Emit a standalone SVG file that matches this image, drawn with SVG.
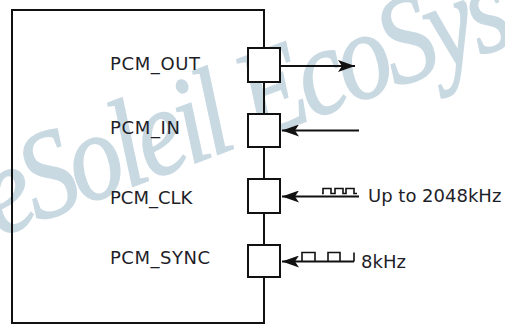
<svg xmlns="http://www.w3.org/2000/svg" width="505" height="325" viewBox="0 0 505 325">
<style>
.lbl{font-family:"DejaVu Sans","Verdana",sans-serif;font-size:18px;fill:#1e1e28}
.box{fill:#fff;stroke:#111;stroke-width:2}
.wire{stroke:#111;stroke-width:2;fill:none}
.wave{stroke:#111;stroke-width:1.6;fill:none}
.wm{font-family:"Liberation Serif","Times New Roman",serif;font-style:italic;font-size:125px;letter-spacing:-6px;fill:#c9d9e2;stroke:#c9d9e2;stroke-width:1.5}
</style>
<defs>
<marker id="ah" viewBox="0 0 17 12" refX="17" refY="6" markerWidth="17" markerHeight="12" markerUnits="userSpaceOnUse" orient="auto">
<path d="M0,0 L17,6 L0,12 L4,6 Z" fill="#111"/>
</marker>
</defs>
<rect width="505" height="325" fill="#fff"/>
<text class="wm" transform="translate(-2,237) rotate(-20.6) scale(0.85,1)">eSoleil EcoSys</text>
<g id="chip">
<rect x="12" y="10" width="252" height="313" fill="none" stroke="#111" stroke-width="2"/>
</g>
<g id="connectors">
<line class="wire" x1="280" y1="66" x2="355" y2="66" marker-end="url(#ah)"/>
<line class="wire" x1="359" y1="130.5" x2="282" y2="130.5" marker-end="url(#ah)"/>
<line class="wire" x1="359" y1="196.5" x2="282" y2="196.5" marker-end="url(#ah)"/>
<line class="wire" x1="354" y1="261.5" x2="282" y2="261.5" stroke-width="2.6" marker-end="url(#ah)"/>
</g>
<g id="pin_out">
<rect class="box" x="248" y="48" width="32" height="34"/>
<text class="lbl" x="110" y="69.5" textLength="90">PCM_OUT</text>
</g>
<g id="pin_in">
<rect class="box" x="248" y="114" width="32" height="33"/>
<text class="lbl" x="110" y="133.5" textLength="70">PCM_IN</text>
</g>
<g id="pin_clk">
<rect class="box" x="248" y="179" width="32" height="34"/>
<text class="lbl" x="110" y="203.5">PCM_CLK</text>
</g>
<g id="pin_sync">
<rect class="box" x="248" y="245" width="32" height="32"/>
<text class="lbl" x="110" y="264" textLength="100">PCM_SYNC</text>
</g>
<g id="clk_signal">
<path class="wave" d="M322,193.5 H323 V188.5 H331 V193.5 H335 V188.5 H343 V193.5 H346 V188.5 H354 V193.5 H357"/>
<text class="lbl" x="368" y="201.5">Up to 2048kHz</text>
</g>
<g id="sync_signal">
<path class="wave" d="M302,261 V252.5 H315 V261 M328,261 V252.5 H340 V261 M354,261.5 V252.5"/>
<text class="lbl" x="361" y="267.5">8kHz</text>
</g>
</svg>
